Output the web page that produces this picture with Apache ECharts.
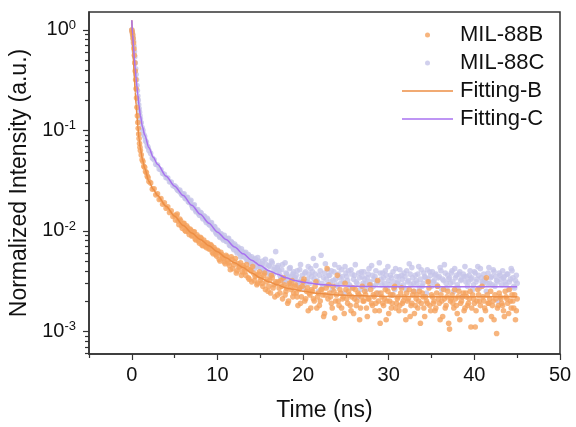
<!DOCTYPE html>
<html>
<head>
<meta charset="utf-8">
<script src="https://cdn.jsdelivr.net/npm/echarts@6/dist/echarts.min.js"></script>
<style>html,body{margin:0;padding:0;background:#fff}#c{width:576px;height:427px}</style>
</head>
<body>
<div id="c"></div>
<script>
// ---- data ----
const times = [
  0,0.05,0.1,0.15,0.2,0.25,0.3,0.35,0.4,0.45,0.5,0.55,0.6,0.65,0.7,0.75,0.8,0.85,0.9,0.95,1.0,
  1.1,1.2,1.3,1.4,1.5,1.6,1.7,1.8,1.9,2.0,
  2.2,2.4,2.6,2.8,3.0,3.2,3.4,3.6,3.8,4.0,4.2,4.4,4.6,4.8,5.0,
  5.2,5.4,5.6,5.8,6.0,6.2,6.4,6.6,6.8,7.0,
  7.2,7.4,7.6,7.8,8.0,8.2,8.4,8.6,8.8,9.0,
  9.2,9.4,9.6,9.8,10.0,10.2,10.4,10.6,10.8,11.0,
  11.2,11.4,11.6,11.8,12.0,12.2,12.4,12.6,12.8,13.0,
  13.2,13.4,13.6,13.8,14.0,14.2,14.4,14.6,14.8,15.0,
  15.2,15.4,15.6,15.8,16.0,16.2,16.4,16.6,16.8,17.0,
  17.2,17.4,17.6,17.8,18.0,18.2,18.4,18.6,18.8,19.0,
  19.2,19.4,19.6,19.8,20.0,20.2,20.4,20.6,20.8,21.0,
  21.2,21.4,21.6,21.8,22.0,22.2,22.4,22.6,22.8,23.0,
  23.2,23.4,23.6,23.8,24.0,24.2,24.4,24.6,24.8,25.0,
  25.2,25.4,25.6,25.8,26.0,26.2,26.4,26.6,26.8,27.0,
  27.2,27.4,27.6,27.8,28.0,28.2,28.4,28.6,28.8,29.0,
  29.2,29.4,29.6,29.8,30.0,30.2,30.4,30.6,30.8,31.0,
  31.2,31.4,31.6,31.8,32.0,32.2,32.4,32.6,32.8,33.0,
  33.2,33.4,33.6,33.8,34.0,34.2,34.4,34.6,34.8,35.0,
  35.2,35.4,35.6,35.8,36.0,36.2,36.4,36.6,36.8,37.0,
  37.2,37.4,37.6,37.8,38.0,38.2,38.4,38.6,38.8,39.0,
  39.2,39.4,39.6,39.8,40.0,40.2,40.4,40.6,40.8,41.0,
  41.2,41.4,41.6,41.8,42.0,42.2,42.4,42.6,42.8,43.0,
  43.2,43.4,43.6,43.8,44.0,44.2,44.4,44.6,44.8,45.0
];
const mil88B = [
  1.0,0.95,0.89,0.82,0.74,0.65,0.56,0.47,0.39,0.32,0.26,0.21,0.17,0.14,0.12,0.105,0.092,0.083,0.074,0.068,0.063,
  0.057,0.051,0.049,0.044,0.043,0.039,0.038,0.035,0.034,0.031,
  0.030,0.026,0.0262,0.0228,0.0234,0.0205,0.0209,0.0184,0.0190,0.0168,0.0173,0.0152,0.0158,0.0139,0.0143,
  0.0142,0.0125,0.0131,0.0112,0.0118,0.0101,0.0112,0.0098,0.0104,0.0089,
  0.0097,0.0083,0.0091,0.0079,0.0086,0.0072,0.0081,0.0070,0.0076,0.0066,
  0.0073,0.0061,0.0068,0.0058,0.0064,0.0052,0.0061,0.0055,0.0049,0.0057,
  0.0051,0.0045,0.0055,0.0042,0.0049,0.0038,0.0047,0.0044,0.0036,0.0045,
  0.0039,0.0046,0.0034,0.0041,0.0031,0.0038,0.0035,0.0029,0.0037,0.0032,
  0.0030,0.0036,0.0026,0.0033,0.0028,0.0024,0.0034,0.0029,0.0031,0.0023,
  0.0027,0.0032,0.0021,0.0029,0.0025,0.0019,0.0030,0.0026,0.0022,0.0028,
  0.0024,0.0018,0.0027,0.0022,0.0031,0.0020,0.0025,0.0016,0.0023,0.0026,
  0.0021,0.0028,0.0017,0.0024,0.0020,0.0026,0.0014,0.0023,0.0042,0.0029,
  0.0022,0.0017,0.0025,0.0020,0.0036,0.0018,0.0024,0.0021,0.0015,0.0026,
  0.0019,0.0023,0.0016,0.0027,0.0021,0.0018,0.0024,0.0013,0.0022,0.0020,
  0.0025,0.0017,0.0021,0.0029,0.0019,0.0023,0.0016,0.0024,0.0020,0.0012,
  0.0022,0.0018,0.0026,0.0020,0.0015,0.0023,0.0019,0.0027,0.0017,0.0021,
  0.0016,0.0024,0.0019,0.0022,0.0013,0.0020,0.0026,0.0018,0.0023,0.0015,
  0.0021,0.0017,0.0025,0.0019,0.0022,0.0014,0.0020,0.0031,0.0018,0.0023,
  0.0019,0.0016,0.0024,0.0021,0.0013,0.0020,0.0026,0.0017,0.0022,0.0012,
  0.0020,0.0023,0.0017,0.0021,0.0015,0.0025,0.0019,0.0022,0.0016,0.0024,
  0.0018,0.0021,0.0011,0.0023,0.0019,0.0016,0.0026,0.0020,0.0013,0.0022,
  0.0017,0.0034,0.0019,0.0021,0.0014,0.0020,0.0023,0.00095,0.0018,0.0022,
  0.0019,0.0016,0.0025,0.0021,0.0015,0.0020,0.0023,0.0017,0.0013,0.0021
];
const mil88C = [
  1.0,0.96,0.9,0.84,0.77,0.69,0.61,0.54,0.47,0.41,0.36,0.32,0.28,0.25,0.22,0.2,0.18,0.165,0.152,0.14,0.13,
  0.119,0.107,0.100,0.091,0.087,0.079,0.076,0.070,0.068,0.063,
  0.059,0.053,0.051,0.046,0.0452,0.0412,0.0405,0.0372,0.0365,0.0338,0.0335,0.0308,0.0305,0.0282,0.0280,
  0.0268,0.0252,0.0255,0.0232,0.0229,0.0212,0.0214,0.0195,0.0197,0.0180,
  0.0178,0.0162,0.0158,0.0149,0.0153,0.0138,0.0141,0.0127,0.0133,0.0116,
  0.0119,0.0106,0.0111,0.0096,0.0102,0.0089,0.0094,0.0084,0.0090,0.0079,
  0.0083,0.0072,0.0078,0.0068,0.0074,0.0063,0.0069,0.0059,0.0066,0.0056,
  0.0060,0.0052,0.0058,0.0049,0.0055,0.0046,0.0053,0.0044,0.0050,0.0043,
  0.0047,0.0040,0.0052,0.0039,0.0045,0.0036,0.0048,0.0041,0.0062,0.0043,
  0.0040,0.0034,0.0046,0.0031,0.0038,0.0035,0.0042,0.0030,0.0037,0.0033,
  0.0036,0.0029,0.0041,0.0033,0.0027,0.0038,0.0031,0.0044,0.0030,0.0035,
  0.0053,0.0037,0.0032,0.0025,0.0040,0.0030,0.0034,0.0047,0.0029,0.0036,
  0.0031,0.0026,0.0039,0.0033,0.0028,0.0043,0.0030,0.0035,0.0024,0.0038,
  0.0032,0.0029,0.0041,0.0027,0.0036,0.0031,0.0022,0.0034,0.0039,0.0030,
  0.0033,0.0026,0.0037,0.0031,0.0045,0.0028,0.0035,0.0030,0.0024,0.0038,
  0.0029,0.0034,0.0040,0.0027,0.0032,0.0036,0.0023,0.0031,0.0042,0.0030,
  0.0035,0.0028,0.0033,0.0038,0.0026,0.0031,0.0047,0.0029,0.0034,0.0025,
  0.0032,0.0037,0.0027,0.0041,0.0030,0.0035,0.0024,0.0033,0.0039,0.0028,
  0.0031,0.0036,0.0029,0.0034,0.0043,0.0026,0.0032,0.0038,0.0027,0.0033,
  0.0030,0.0040,0.0025,0.0034,0.0029,0.0037,0.0032,0.0022,0.0035,0.0031,
  0.0028,0.0036,0.0033,0.0026,0.0039,0.0031,0.0044,0.0027,0.0034,0.0030,
  0.0033,0.0025,0.0038,0.0030,0.0035,0.0041,0.0028,0.0032,0.0020,0.0036,
  0.0029,0.0034,0.0031,0.0037,0.0026,0.0033,0.0040,0.0028,0.0032,0.0030
];
// second, interleaved set of samples (odd tenths)
const times2 = [
  5.1,5.3,5.5,5.7,5.9,6.1,6.3,6.5,6.7,6.9,
  7.1,7.3,7.5,7.7,7.9,8.1,8.3,8.5,8.7,8.9,
  9.1,9.3,9.5,9.7,9.9,10.1,10.3,10.5,10.7,10.9,
  11.1,11.3,11.5,11.7,11.9,12.1,12.3,12.5,12.7,12.9,
  13.1,13.3,13.5,13.7,13.9,14.1,14.3,14.5,14.7,14.9,
  15.1,15.3,15.5,15.7,15.9,16.1,16.3,16.5,16.7,16.9,
  17.1,17.3,17.5,17.7,17.9,18.1,18.3,18.5,18.7,18.9,
  19.1,19.3,19.5,19.7,19.9,20.1,20.3,20.5,20.7,20.9,
  21.1,21.3,21.5,21.7,21.9,22.1,22.3,22.5,22.7,22.9,
  23.1,23.3,23.5,23.7,23.9,24.1,24.3,24.5,24.7,24.9,
  25.1,25.3,25.5,25.7,25.9,26.1,26.3,26.5,26.7,26.9,
  27.1,27.3,27.5,27.7,27.9,28.1,28.3,28.5,28.7,28.9,
  29.1,29.3,29.5,29.7,29.9,30.1,30.3,30.5,30.7,30.9,
  31.1,31.3,31.5,31.7,31.9,32.1,32.3,32.5,32.7,32.9,
  33.1,33.3,33.5,33.7,33.9,34.1,34.3,34.5,34.7,34.9,
  35.1,35.3,35.5,35.7,35.9,36.1,36.3,36.5,36.7,36.9,
  37.1,37.3,37.5,37.7,37.9,38.1,38.3,38.5,38.7,38.9,
  39.1,39.3,39.5,39.7,39.9,40.1,40.3,40.5,40.7,40.9,
  41.1,41.3,41.5,41.7,41.9,42.1,42.3,42.5,42.7,42.9,
  43.1,43.3,43.5,43.7,43.9,44.1,44.3,44.5,44.7,44.9
];
const mil88B2 = [
  0.0128,0.0147,0.0115,0.0126,0.0106,0.0119,0.0099,0.0108,0.0092,0.0101,
  0.0090,0.0098,0.0081,0.0087,0.0075,0.0084,0.0071,0.0077,0.0068,0.0074,
  0.0066,0.0071,0.0059,0.0065,0.0056,0.0062,0.0050,0.0058,0.0053,0.0047,
  0.0055,0.0048,0.0041,0.0052,0.0046,0.0053,0.0040,0.0043,0.0048,0.0039,
  0.0043,0.0036,0.0042,0.0033,0.0040,0.0044,0.0032,0.0036,0.0030,0.0039,
  0.0034,0.0028,0.0038,0.0031,0.0025,0.0032,0.0036,0.0027,0.0022,0.0030,
  0.0031,0.0024,0.0028,0.0034,0.0023,0.0027,0.0020,0.0029,0.0032,0.0024,
  0.0029,0.0022,0.0026,0.0019,0.0028,0.0033,0.0021,0.0027,0.0024,0.0017,
  0.0025,0.0020,0.0031,0.0022,0.0018,0.0026,0.0023,0.0015,0.0027,0.0021,
  0.0024,0.0019,0.0028,0.00135,0.0023,0.0020,0.0026,0.0017,0.0022,0.0030,
  0.0021,0.0025,0.0018,0.0022,0.0015,0.0026,0.0020,0.0023,0.0017,0.0028,
  0.0020,0.0023,0.0014,0.0021,0.0026,0.0018,0.0022,0.0019,0.0032,0.0016,
  0.0024,0.0019,0.0021,0.0013,0.0025,0.0020,0.0017,0.0023,0.0028,0.0019,
  0.0022,0.0018,0.0027,0.0020,0.0016,0.0024,0.0021,0.0014,0.0019,0.0025,
  0.0018,0.0023,0.0020,0.0012,0.0024,0.0017,0.0022,0.0019,0.0027,0.0016,
  0.0022,0.0020,0.0017,0.0028,0.0019,0.0023,0.0014,0.0021,0.0018,0.0025,
  0.00105,0.0021,0.0019,0.0026,0.0018,0.0022,0.0013,0.0020,0.0024,0.0017,
  0.0022,0.0019,0.0025,0.0017,0.0021,0.0011,0.0020,0.0023,0.0018,0.0028,
  0.0020,0.0016,0.0023,0.0019,0.0025,0.0018,0.0013,0.0021,0.0017,0.0024,
  0.0021,0.0018,0.0014,0.0022,0.0019,0.0026,0.0017,0.0020,0.0023,0.0016
];
const mil88C2 = [
  0.0275,0.0258,0.0249,0.0241,0.0226,0.0234,0.0209,0.0216,0.0192,0.0201,
  0.0170,0.0182,0.0155,0.0163,0.0143,0.0150,0.0132,0.0139,0.0121,0.0128,
  0.0114,0.0121,0.0103,0.0109,0.0093,0.0099,0.0086,0.0091,0.0081,0.0085,
  0.0078,0.0084,0.0071,0.0076,0.0065,0.0071,0.0060,0.0066,0.0055,0.0062,
  0.0055,0.0061,0.0050,0.0056,0.0047,0.0052,0.0042,0.0049,0.0054,0.0045,
  0.0044,0.0050,0.0041,0.0046,0.0038,0.0044,0.0050,0.0037,0.0043,0.0039,
  0.0045,0.0036,0.0041,0.0033,0.0048,0.0037,0.0032,0.0043,0.0035,0.0039,
  0.0034,0.0040,0.0031,0.0046,0.0036,0.0029,0.0039,0.0033,0.0037,0.0042,
  0.0039,0.0033,0.0045,0.0031,0.0036,0.0057,0.0028,0.0038,0.0033,0.0041,
  0.0036,0.0040,0.0032,0.0046,0.0029,0.0037,0.0034,0.0041,0.0031,0.0044,
  0.0035,0.0040,0.0028,0.0037,0.0033,0.0046,0.0030,0.0038,0.0026,0.0035,
  0.0039,0.0030,0.0034,0.0042,0.0029,0.0036,0.0033,0.0040,0.0031,0.0048,
  0.0033,0.0038,0.0030,0.0036,0.0044,0.0029,0.0034,0.0039,0.0026,0.0035,
  0.0031,0.0041,0.0036,0.0029,0.0035,0.0040,0.0032,0.0037,0.0043,0.0030,
  0.0036,0.0030,0.0044,0.0033,0.0028,0.0038,0.0034,0.0041,0.0031,0.0036,
  0.0039,0.0032,0.0037,0.0028,0.0035,0.0040,0.0033,0.0046,0.0030,0.0036,
  0.0034,0.0038,0.0031,0.0042,0.0036,0.0027,0.0039,0.0033,0.0037,0.0044,
  0.0035,0.0031,0.0040,0.0034,0.0029,0.0038,0.0033,0.0036,0.0042,0.0031,
  0.0037,0.0032,0.0030,0.0043,0.0034,0.0029,0.0039,0.0035,0.0031,0.0038,
  0.0033,0.0040,0.0035,0.0029,0.0037,0.0031,0.0042,0.0034,0.0027,0.0036
];
const fitTimes = [0,0.1,0.2,0.3,0.4,0.5,0.6,0.7,0.85,1,1.25,1.5,2,2.5,3,4,5,6,7,8,9,10,11,12,13,14,15,16,17,18,19,20,22,24,26,28,30,35,40,45];
const fitB = [1.25,0.72,0.47,0.33,0.24,0.18,0.14,0.11,0.082,0.066,0.051,0.042,0.031,0.026,0.0225,0.0176,0.014,0.0113,0.0095,0.0082,0.0071,0.0062,0.0054,0.0048,0.0043,0.0038,0.0034,0.0031,0.0029,0.0027,0.0026,0.0025,0.00237,0.0023,0.00226,0.00224,0.00222,0.00221,0.00221,0.00221];
const fitC = [1.25,0.9,0.68,0.52,0.41,0.33,0.27,0.225,0.175,0.14,0.108,0.09,0.067,0.054,0.046,0.035,0.0278,0.0225,0.018,0.0146,0.0119,0.0097,0.0082,0.0069,0.0059,0.0051,0.0045,0.0040,0.0037,0.0034,0.0032,0.00308,0.00292,0.00284,0.0028,0.00278,0.00277,0.00277,0.00277,0.00277];
const xMajorTicks = [0,10,20,30,40,50];
const xMinorTicks = [-5,5,15,25,35,45];
const yDecadeExps = [-3,-2,-1,0];
const yMinorMult = [2,3,4,5,6,7,8,9];
const seriesNames = ['MIL-88B','MIL-88C','Fitting-B','Fitting-C'];

// ---- chart ----
const FONT = '"Liberation Sans", Arial, sans-serif';
const xMin = -5, xMax = 50;
const yMin = 5.93e-4, yMax = 1.51;
const lyMin = Math.log10(yMin), lyMax = Math.log10(yMax);
const yMinorLog = [];
for (let e = -4; e <= 0; e++) for (const m of yMinorMult) {
  const l = Math.log10(m * Math.pow(10, e));
  if (l >= lyMin && l <= lyMax) yMinorLog.push(l);
}
const zip = (xs, ys) => xs.map((x, i) => [x, ys[i]]);
const AX = '#333';
const COL = {B: '#f5a35e', C: '#c6c4e8', FB: '#ec8e45', FC: '#a872f0'};
const chart = echarts.init(document.getElementById('c'), null, {renderer: 'canvas'});
const txt = {fontFamily: FONT, fontSize: 22, color: '#111'};
chart.setOption({
  animation: false,
  backgroundColor: '#fff',
  grid: {left: 89, right: 16, top: 12, bottom: 70, show: true, borderColor: AX, borderWidth: 1.5, backgroundColor: 'transparent'},
  legend: [
    {data: [{name: seriesNames[0], icon: 'circle'}], left: 425, top: 24, itemWidth: 5, itemHeight: 5, padding: 0, selectedMode: false,
     textStyle: Object.assign({padding: [0, 0, 0, 25]}, txt)},
    {data: [{name: seriesNames[1], icon: 'circle'}], left: 425, top: 52, itemWidth: 5, itemHeight: 5, padding: 0, selectedMode: false,
     textStyle: Object.assign({padding: [0, 0, 0, 25]}, txt)},
    {data: [{name: seriesNames[2], icon: 'rect'}], left: 402, top: 80, itemWidth: 51, itemHeight: 1.5, padding: 0, selectedMode: false,
     textStyle: Object.assign({padding: [0, 0, 0, 2]}, txt)},
    {data: [{name: seriesNames[3], icon: 'rect'}], left: 402, top: 108, itemWidth: 51, itemHeight: 1.5, padding: 0, selectedMode: false,
     textStyle: Object.assign({padding: [0, 0, 0, 2]}, txt)}
  ],
  xAxis: [
    {type: 'value', min: xMin, max: xMax, name: 'Time (ns)', nameLocation: 'middle', nameGap: 45,
     nameTextStyle: {fontFamily: FONT, fontSize: 23, color: '#111'},
     axisLine: {show: true, onZero: false, lineStyle: {color: AX, width: 1.5}},
     axisTick: {show: true, inside: false, length: 6, customValues: xMajorTicks, lineStyle: {color: AX, width: 1.2}},
     axisLabel: {customValues: xMajorTicks, margin: 11, fontFamily: FONT, fontSize: 20, color: '#111'},
     splitLine: {show: false}},
    {type: 'value', min: xMin, max: xMax, position: 'bottom',
     axisLine: {show: false, onZero: false},
     axisTick: {show: true, inside: false, length: 4, customValues: xMinorTicks, lineStyle: {color: AX, width: 1.2}},
     axisLabel: {show: false}, splitLine: {show: false}}
  ],
  yAxis: [
    {type: 'log', min: yMin, max: yMax, logBase: 10, show: false, splitLine: {show: false}},
    {type: 'value', min: lyMin, max: lyMax, position: 'left',
     name: 'Normalized Intensity (a.u.)', nameLocation: 'middle', nameGap: 55, nameRotate: 90,
     nameTextStyle: {fontFamily: FONT, fontSize: 23, color: '#111'},
     axisLine: {show: true, onZero: false, lineStyle: {color: AX, width: 1.5}},
     axisTick: {show: true, inside: false, length: 6, customValues: yDecadeExps, lineStyle: {color: AX, width: 1.2}},
     axisLabel: {customValues: yDecadeExps, margin: 13,
       formatter: v => '{b|10}{s|' + Math.round(v) + '}',
       rich: {b: {fontFamily: FONT, fontSize: 20, color: '#111', lineHeight: 22},
              s: {fontFamily: FONT, fontSize: 13, color: '#111', verticalAlign: 'top'}}},
     splitLine: {show: false}},
    {type: 'value', min: lyMin, max: lyMax, position: 'left',
     axisLine: {show: false, onZero: false},
     axisTick: {show: true, inside: false, length: 4, customValues: yMinorLog, lineStyle: {color: AX, width: 1.2}},
     axisLabel: {show: false}, splitLine: {show: false}}
  ],
  series: [
    {name: seriesNames[1], type: 'scatter', xAxisIndex: 0, yAxisIndex: 0,
     data: zip(times, mil88C).concat(zip(times2, mil88C2)),
     symbol: 'circle', symbolSize: 5.6, itemStyle: {color: COL.C}},
    {name: seriesNames[0], type: 'scatter', xAxisIndex: 0, yAxisIndex: 0,
     data: zip(times, mil88B).concat(zip(times2, mil88B2)),
     symbol: 'circle', symbolSize: 5.6, itemStyle: {color: COL.B}},
    {name: seriesNames[2], type: 'line', xAxisIndex: 0, yAxisIndex: 0, data: zip(fitTimes, fitB),
     symbol: 'none', showSymbol: false, smooth: 0.3, smoothMonotone: 'x',
     lineStyle: {color: COL.FB, width: 1.5}, itemStyle: {color: COL.FB}},
    {name: seriesNames[3], type: 'line', xAxisIndex: 0, yAxisIndex: 0, data: zip(fitTimes, fitC),
     symbol: 'none', showSymbol: false, smooth: 0.3, smoothMonotone: 'x',
     lineStyle: {color: COL.FC, width: 1.5}, itemStyle: {color: COL.FC}}
  ]
});
</script>
</body>
</html>
